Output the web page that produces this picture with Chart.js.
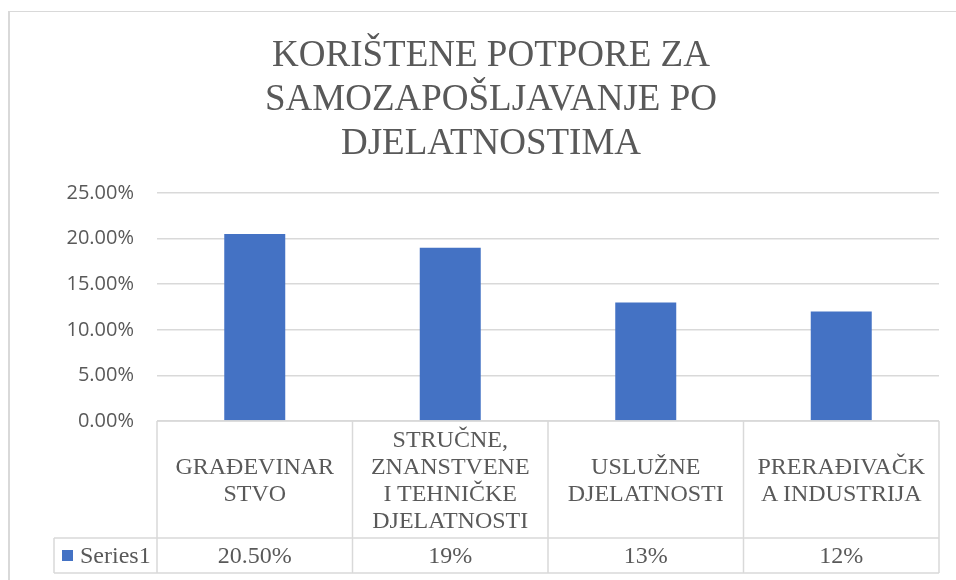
<!DOCTYPE html>
<html><head><meta charset="utf-8">
<script src="https://cdn.jsdelivr.net/npm/chart.js@4/dist/chart.umd.min.js"></script>
<style>
html,body{margin:0;padding:0;background:#fff;overflow:hidden;}
#frame{position:absolute;left:8px;top:11px;width:1100px;height:700px;border-left:2px solid #d9d9d9;border-top:1px solid #d9d9d9;box-sizing:border-box;}
#wrap{position:absolute;left:0;top:0;width:956px;height:580px;}
#overlay{position:absolute;left:0;top:0;width:956px;height:580px;pointer-events:none;font-family:"Liberation Serif","Times New Roman",Tinos,serif;color:#595959;}
#title{position:absolute;left:0;top:32px;width:982px;text-align:center;font-size:37px;line-height:44px;white-space:nowrap;}
.cell{position:absolute;display:flex;align-items:center;justify-content:center;text-align:center;font-size:24px;line-height:27px;white-space:nowrap;}
.leg{position:absolute;display:flex;align-items:center;font-size:24px;line-height:27px;white-space:nowrap;}
.key{display:inline-block;width:11px;height:11px;background:#4472c4;margin-right:7px;}
</style></head><body>
<div id="frame"></div>
<div id="wrap"><canvas id="c" width="956" height="580"></canvas></div>
<div id="overlay"><div id="title"></div><div id="table"></div></div>
<script>
const titleLines = ["KORIŠTENE POTPORE ZA", "SAMOZAPOŠLJAVANJE PO", "DJELATNOSTIMA"];
const categories = [
  ["GRAĐEVINAR", "STVO"],
  ["STRUČNE,", "ZNANSTVENE", "I TEHNIČKE", "DJELATNOSTI"],
  ["USLUŽNE", "DJELATNOSTI"],
  ["PRERAĐIVAČK", "A INDUSTRIJA"]
];
const seriesName = "Series1";
const values = [20.5, 19, 13, 12];
const valueLabels = ["20.50%", "19%", "13%", "12%"];
const yMin = 0, yMax = 25, yStep = 5;

const TEXT = '#595959';
const LINE = '#d9d9d9';
const BAR = '#4472c4';

const titleEl = document.getElementById('title');
titleLines.forEach((t, i) => {
  if (i) titleEl.appendChild(document.createElement('br'));
  titleEl.appendChild(document.createTextNode(t));
});

function place(el, x, y, w, h) {
  el.style.left = x + 'px'; el.style.top = y + 'px';
  el.style.width = w + 'px'; el.style.height = h + 'px';
}

const tablePlugin = {
  id: 'dataTable',
  afterDraw(chart) {
    const ctx = chart.ctx;
    const xs = chart.scales.x;
    const area = chart.chartArea;
    const n = categories.length;
    const catW = n > 1 ? xs.getPixelForValue(1) - xs.getPixelForValue(0) : (area.right - area.left);
    const top = area.bottom;
    const mid = top + 117;
    const bot = mid + 35;
    const legLeft = area.left - 103;
    ctx.save();
    ctx.strokeStyle = LINE;
    ctx.lineWidth = 1.5;
    const h = (x1, x2, y) => { ctx.beginPath(); ctx.moveTo(x1, y); ctx.lineTo(x2, y); ctx.stroke(); };
    const v = (x, y1, y2) => { ctx.beginPath(); ctx.moveTo(x, y1); ctx.lineTo(x, y2); ctx.stroke(); };
    h(area.left, area.right, top);
    h(legLeft, area.right, mid);
    h(legLeft, area.right, bot);
    v(legLeft, mid, bot);
    for (let i = 0; i < n; i++) v(xs.getPixelForValue(i) - catW / 2, top, bot);
    v(xs.getPixelForValue(n - 1) + catW / 2, top, bot);
    ctx.restore();

    const tbl = document.getElementById('table');
    tbl.innerHTML = '';
    categories.forEach((lines, i) => {
      const c = xs.getPixelForValue(i);
      const d = document.createElement('div');
      d.className = 'cell';
      const inner = document.createElement('div');
      lines.forEach((t, j) => {
        if (j) inner.appendChild(document.createElement('br'));
        inner.appendChild(document.createTextNode(t));
      });
      d.appendChild(inner);
      place(d, c - catW / 2, top, catW, mid - top);
      tbl.appendChild(d);
      const vd = document.createElement('div');
      vd.className = 'cell';
      vd.textContent = valueLabels[i];
      place(vd, c - catW / 2, mid, catW, bot - mid);
      tbl.appendChild(vd);
    });
    const leg = document.createElement('div');
    leg.className = 'leg';
    const key = document.createElement('span');
    key.className = 'key';
    leg.appendChild(key);
    leg.appendChild(document.createTextNode(seriesName));
    place(leg, legLeft + 8, mid, area.left - legLeft - 8, bot - mid);
    tbl.appendChild(leg);
  }
};

new Chart(document.getElementById('c'), {
  type: 'bar',
  data: {
    labels: categories,
    datasets: [{
      label: seriesName,
      data: values,
      backgroundColor: BAR,
      borderWidth: 0,
      barPercentage: 0.312,
      categoryPercentage: 1
    }]
  },
  options: {
    responsive: false,
    devicePixelRatio: 1,
    animation: false,
    layout: { padding: { left: 0, right: 17, top: 193, bottom: 0 } },
    plugins: { legend: { display: false }, title: { display: false }, tooltip: { enabled: false } },
    scales: {
      x: {
        grid: { display: false },
        border: { display: false },
        ticks: { display: false },
        afterFit(scale) { scale.height = 159; }
      },
      y: {
        min: yMin, max: yMax,
        border: { display: false },
        grid: { color: LINE, lineWidth: 1.5, drawTicks: false },
        ticks: {
          stepSize: yStep,
          padding: 23,
          color: TEXT,
          font: { family: '"Open Sans", sans-serif', size: 20 },
          callback: (val) => Number(val).toFixed(2) + '%'
        },
        afterFit(scale) { scale.width = 157; }
      }
    }
  },
  plugins: [tablePlugin]
});
</script>
</body></html>
